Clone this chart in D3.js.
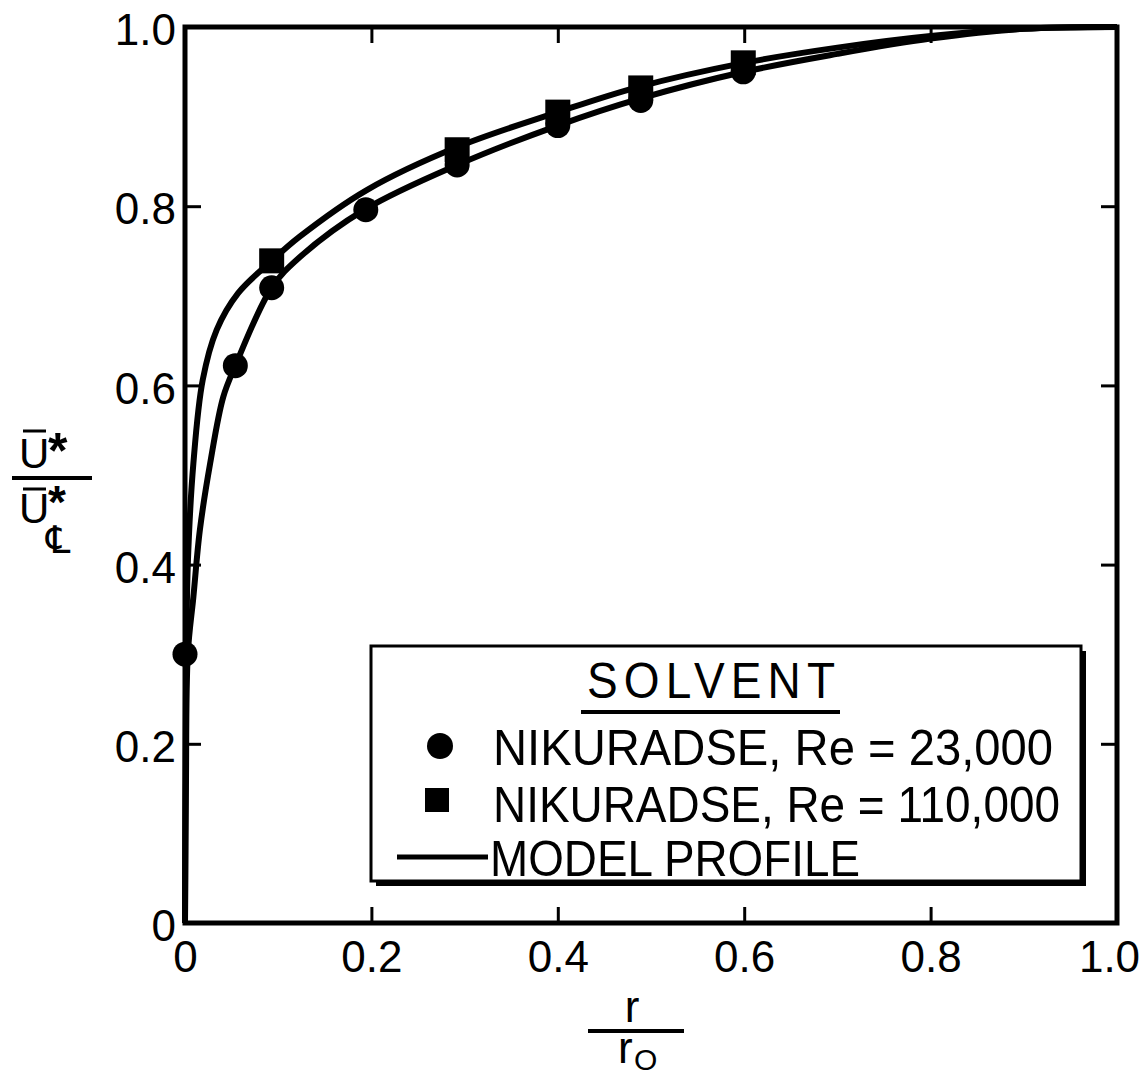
<!DOCTYPE html>
<html>
<head>
<meta charset="utf-8">
<script src="https://cdn.jsdelivr.net/npm/d3@7"></script>
<style>
  html, body { margin: 0; padding: 0; background: #fff; }
  svg { display: block; }
  text { font-family: "Liberation Sans", Arial, sans-serif; fill: #000; }
</style>
</head>
<body>
<svg id="chart" width="1146" height="1076"></svg>
<script>
// ---- data ----
const xTicks = [0, 0.2, 0.4, 0.6, 0.8, 1.0];
const xTickLabels = ["0", "0.2", "0.4", "0.6", "0.8", "1.0"];
const yTicks = [0, 0.2, 0.4, 0.6, 0.8, 1.0];
const yTickLabels = ["0", "0.2", "0.4", "0.6", "0.8", "1.0"];

// Nikuradse, Re = 23,000 (circles)
const re23R = [0.0, 0.054, 0.093, 0.194, 0.292, 0.400, 0.489, 0.599];
const re23U = [0.30, 0.622, 0.709, 0.796, 0.846, 0.890, 0.918, 0.950];
// Nikuradse, Re = 110,000 (squares)
const re110R = [0.093, 0.292, 0.400, 0.489, 0.599];
const re110U = [0.739, 0.863, 0.905, 0.932, 0.960];

// Model profile, lower curve (fits Re = 23,000)
const modelLowR = [0, 0.001, 0.003, 0.009, 0.016, 0.027, 0.041, 0.054, 0.093, 0.123, 0.194, 0.292, 0.400, 0.488, 0.600, 0.700, 0.800, 0.900, 1.0];
const modelLowU = [0, 0.15, 0.30, 0.364, 0.439, 0.513, 0.587, 0.622, 0.709, 0.743, 0.797, 0.846, 0.890, 0.920, 0.950, 0.970, 0.987, 0.998, 1.0];
// Model profile, upper curve (fits Re = 110,000)
const modelHighR = [0, 0.001, 0.003, 0.009, 0.019, 0.034, 0.057, 0.093, 0.123, 0.195, 0.292, 0.400, 0.486, 0.600, 0.700, 0.800, 0.900, 1.0];
const modelHighU = [0, 0.25, 0.40, 0.513, 0.606, 0.662, 0.703, 0.739, 0.766, 0.818, 0.866, 0.905, 0.933, 0.960, 0.977, 0.990, 0.998, 1.0];

// ---- chart ----
const svg = d3.select("#chart");
const x = d3.scaleLinear().domain([0, 1]).range([185, 1117]);
const y = d3.scaleLinear().domain([0, 1]).range([923, 27]);

// curves
const line = d3.line().x(d => x(d[0])).y(d => y(d[1])).curve(d3.curveCatmullRom.alpha(0.5));
const curves = [d3.zip(modelLowR, modelLowU), d3.zip(modelHighR, modelHighU)];
svg.append("g").selectAll("path").data(curves).join("path")
  .attr("d", line).attr("fill", "none").attr("stroke", "#000")
  .attr("stroke-width", 6).attr("stroke-linejoin", "round");

// frame
svg.append("rect").attr("x", x(0)).attr("y", y(1))
  .attr("width", x(1) - x(0)).attr("height", y(0) - y(1))
  .attr("fill", "none").attr("stroke", "#000").attr("stroke-width", 5);

// axes
function styleAxis(g) {
  g.select(".domain").remove();
  g.selectAll(".tick line").attr("stroke", "#000").attr("stroke-width", 3);
  g.selectAll(".tick text").attr("font-size", 44).attr("fill", "#000")
    .style("font-family", "'Liberation Sans', Arial, sans-serif");
}
const innerTicksX = xTicks.filter(d => d > 0 && d < 1);
const innerTicksY = yTicks.filter(d => d > 0 && d < 1);

svg.append("g").attr("transform", `translate(0,${y(0)})`)
  .call(d3.axisBottom(x).tickValues(xTicks).tickFormat((d, i) => xTickLabels[i])
    .tickSizeInner(-16).tickSizeOuter(0).tickPadding(18))
  .call(styleAxis)
  .call(g => g.selectAll(".tick line").attr("opacity", d => (d > 0 && d < 1) ? 1 : 0))
  .call(g => g.selectAll(".tick text").attr("dx", d => d === 1 ? -8 : 0));

svg.append("g").attr("transform", `translate(${x(0)},0)`)
  .call(d3.axisLeft(y).tickValues(yTicks).tickFormat((d, i) => yTickLabels[i])
    .tickSizeInner(-16).tickSizeOuter(0).tickPadding(9))
  .call(styleAxis)
  .call(g => g.selectAll(".tick line").attr("opacity", d => (d > 0 && d < 1) ? 1 : 0))
  .call(g => g.selectAll(".tick text").attr("dy", "0.4em"));

svg.append("g").attr("transform", `translate(0,${y(1)})`)
  .call(d3.axisTop(x).tickValues(innerTicksX).tickFormat("").tickSizeInner(-16).tickSizeOuter(0))
  .call(styleAxis);

svg.append("g").attr("transform", `translate(${x(1)},0)`)
  .call(d3.axisRight(y).tickValues(innerTicksY).tickFormat("").tickSizeInner(-16).tickSizeOuter(0))
  .call(styleAxis);

// markers
svg.append("g").selectAll("circle").data(d3.zip(re23R, re23U)).join("circle")
  .attr("cx", d => x(d[0])).attr("cy", d => y(d[1])).attr("r", 12.5).attr("fill", "#000");
const sq = 25;
svg.append("g").selectAll("rect").data(d3.zip(re110R, re110U)).join("rect")
  .attr("x", d => x(d[0]) - sq / 2).attr("y", d => y(d[1]) - sq / 2)
  .attr("width", sq).attr("height", sq).attr("fill", "#000");

// legend
const lg = svg.append("g");
lg.append("rect").attr("x", 376).attr("y", 651).attr("width", 710).attr("height", 235).attr("fill", "#000");
lg.append("rect").attr("x", 371).attr("y", 646).attr("width", 710).attr("height", 235)
  .attr("fill", "#fff").attr("stroke", "#000").attr("stroke-width", 3);
lg.append("text").attr("transform", "translate(587,698) scale(1,1.08)")
  .attr("font-size", 46).attr("textLength", 248).attr("lengthAdjust", "spacing").text("SOLVENT");
lg.append("line").attr("x1", 581).attr("x2", 840).attr("y1", 712).attr("y2", 712)
  .attr("stroke", "#000").attr("stroke-width", 4);
lg.append("circle").attr("cx", 440).attr("cy", 746).attr("r", 13).attr("fill", "#000");
lg.append("text").attr("transform", "translate(493,765) scale(1,1.08)").attr("font-size", 47)
  .attr("textLength", 560).attr("lengthAdjust", "spacingAndGlyphs").text("NIKURADSE, Re = 23,000");
lg.append("rect").attr("x", 425).attr("y", 788).attr("width", 24).attr("height", 24).attr("fill", "#000");
lg.append("text").attr("transform", "translate(493,822) scale(1,1.08)").attr("font-size", 47)
  .attr("textLength", 567).attr("lengthAdjust", "spacingAndGlyphs").text("NIKURADSE, Re = 110,000");
lg.append("line").attr("x1", 397).attr("x2", 488).attr("y1", 857).attr("y2", 857)
  .attr("stroke", "#000").attr("stroke-width", 5);
lg.append("text").attr("transform", "translate(490,876) scale(1,1.08)").attr("font-size", 47)
  .attr("textLength", 370).attr("lengthAdjust", "spacingAndGlyphs").text("MODEL PROFILE");

// x axis title r / r0
const xt = svg.append("g");
xt.append("text").attr("x", 632).attr("y", 1022).attr("text-anchor", "middle").attr("font-size", 44).text("r");
xt.append("line").attr("x1", 588).attr("x2", 684).attr("y1", 1031).attr("y2", 1031)
  .attr("stroke", "#000").attr("stroke-width", 4);
xt.append("text").attr("x", 618).attr("y", 1063).attr("font-size", 44).text("r");
xt.append("text").attr("x", 634).attr("y", 1070).attr("font-size", 30).text("O");

// y axis title  U* / U*_CL
const yt = svg.append("g");
yt.append("line").attr("x1", 23).attr("x2", 46).attr("y1", 431).attr("y2", 431).attr("stroke", "#000").attr("stroke-width", 3);
yt.append("text").attr("x", 19).attr("y", 468).attr("font-size", 42).text("U");
yt.append("text").attr("x", 48).attr("y", 468).attr("font-size", 50).attr("font-weight", "bold").text("*");
yt.append("line").attr("x1", 12).attr("x2", 92).attr("y1", 478).attr("y2", 478).attr("stroke", "#000").attr("stroke-width", 4);
yt.append("line").attr("x1", 23).attr("x2", 46).attr("y1", 489).attr("y2", 489).attr("stroke", "#000").attr("stroke-width", 3);
yt.append("text").attr("x", 19).attr("y", 523).attr("font-size", 42).text("U");
yt.append("text").attr("x", 48).attr("y", 518).attr("font-size", 46).attr("font-weight", "bold").text("*");
yt.append("text").attr("x", 46).attr("y", 553).attr("font-size", 38)
  .style("font-family", "'DejaVu Sans', sans-serif").text("\u2104");
</script>
</body>
</html>
